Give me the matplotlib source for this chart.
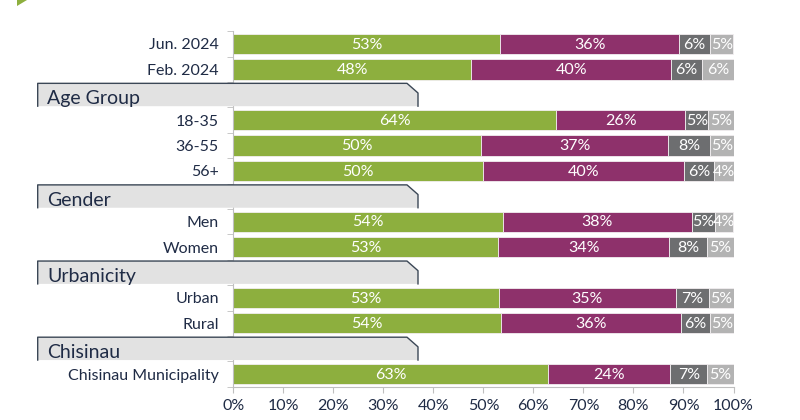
import numpy as np
import matplotlib
matplotlib.use("Agg")
import matplotlib.pyplot as plt
from matplotlib.patches import Polygon
from matplotlib.transforms import blended_transform_factory

plt.rcParams['font.family'] = ['Lato', 'DejaVu Sans']

# rows top to bottom; None marks a section header row
rows = ['Jun. 2024', 'Feb. 2024', None, '18-35', '36-55', '56+', None,
        'Men', 'Women', None, 'Urban', 'Rural', None, 'Chisinau Municipality']
headers = ['Age Group', 'Gender', 'Urbanicity', 'Chisinau']

# four answer groups (share of respondents, %), header rows are NaN
s1 = [53.4, 47.6, np.nan, 64.5, 49.6, 50.0, np.nan, 53.9, 53.0, np.nan, 53.1, 53.6, np.nan, 63.0]
s2 = [35.7, 39.9, np.nan, 25.9, 37.4, 40.2, np.nan, 37.8, 34.2, np.nan, 35.4, 35.9, np.nan, 24.4]
s3 = [6.3, 6.3, np.nan, 4.6, 8.4, 6.0, np.nan, 4.6, 7.6, np.nan, 6.6, 5.9, np.nan, 7.4]
s4 = [4.6, 6.2, np.nan, 5.0, 4.6, 3.8, np.nan, 3.7, 5.2, np.nan, 4.9, 4.6, np.nan, 5.2]

colors = ['#8DAF3E', '#8E316B', '#6D6E70', '#B3B3B3']
navy = '#1F2B45'
grid_grey = '#BFBFBF'

fig = plt.figure(figsize=(8, 4.2), dpi=100)
ax = fig.add_axes([233.3 / 800, 1 - 386.7 / 420, 500.2 / 800, 355.4 / 420])

y = np.arange(len(rows))
left = np.zeros(len(rows))
for vals, c in zip([s1, s2, s3, s4], colors):
    v = np.array(vals)
    ax.barh(y, np.nan_to_num(v), left=left, height=0.8, color=c,
            edgecolor='#F2EEF0', linewidth=0.6)
    for yi, (l, w) in enumerate(zip(left, v)):
        if np.isnan(w):
            continue
        ax.text(l + w / 2, yi + 0.03, f'{w:.0f}%', ha='center', va='center',
                color='white', fontsize=11.5)
    left = left + np.nan_to_num(v)

ax.set_xlim(0, 100)
ax.set_ylim(len(rows) - 0.5, -0.5)
ax.set_xticks(np.arange(0, 101, 10))
ax.set_xticklabels([f'{t}%' for t in range(0, 101, 10)], color=navy, fontsize=11.5)
ax.set_yticks(y)
ax.set_yticklabels(['' if r is None else r for r in rows], color=navy, fontsize=11.5)
ax.set_yticks(np.arange(-0.5, len(rows), 1), minor=True)
ax.tick_params(axis='y', which='major', length=0, pad=10.5)
ax.tick_params(axis='y', which='minor', length=4, color=grid_grey)
ax.tick_params(axis='x', length=4, color=grid_grey, pad=5)
for side in ['top', 'right']:
    ax.spines[side].set_visible(False)
for side in ['left', 'bottom']:
    ax.spines[side].set_color(grid_grey)

# section header boxes with cut top-right corner
tr = blended_transform_factory(fig.transFigure, ax.transData)
hrows = [i for i, r in enumerate(rows) if r is None]
for r, name in zip(hrows, headers):
    x0, x1, x2 = 37.7 / 800, 407 / 800, 418 / 800
    top, bot = r - 0.45, r + 0.45
    fill = Polygon([(x0, bot), (x0, top), (x1, top), (x2, top + 0.38), (x2, bot)],
                   closed=True, transform=tr, facecolor='#E2E2E2', edgecolor='none',
                   clip_on=False, zorder=5)
    ax.add_patch(fill)
    ax.plot([x0, x0, x1, x2, x2], [bot, top, top, top + 0.38, bot], transform=tr,
            color='#3B4756', lw=1.0, clip_on=False, zorder=6)
    ax.text(47 / 800, bot - 0.07, name, transform=tr, ha='left', va='baseline',
            fontsize=14, color=navy, zorder=7)

# green corner mark at top left
fig.patches.append(Polygon([(17 / 800, 1.0), (27 / 800, 1.0), (17 / 800, 1 - 6 / 420)],
                           closed=True, transform=fig.transFigure, facecolor='#8DAF3E'))

fig.savefig('out.png', dpi=100)
